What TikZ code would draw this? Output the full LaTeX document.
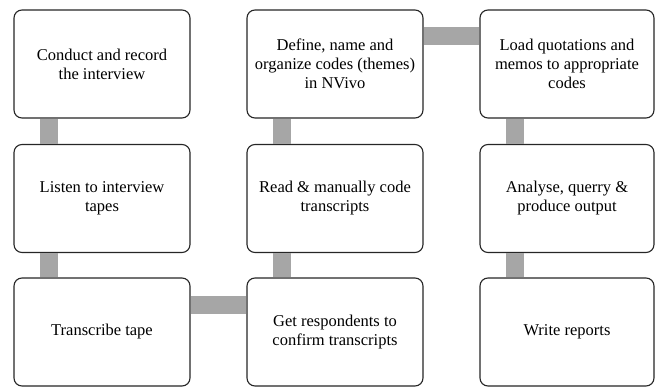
\documentclass[tikz,border=0pt]{standalone}
\usepackage{fontspec}
\newfontfamily\boxfont{LiberationSerif-Regular.ttf}
\usetikzlibrary{calc}
\tikzset{
  stepbox/.style={draw=black!85, line width=1.1pt, rounded corners=8pt, fill=white,
    minimum width=176pt, minimum height=108pt, inner sep=0pt, align=center,
    font=\boxfont\fontsize{16.5}{19}\selectfont},
  bar/.style={fill=black!35, draw=none}
}
\begin{document}
\begin{tikzpicture}[x=1pt,y=-1pt]
\useasboundingbox (0,0) rectangle (657,388);
% three columns of process steps
\node[stepbox] (c1) at (102,64) {Conduct and record\\the interview};
\node[stepbox] (l1) at (102,198.5) {Listen to interview\\tapes};
\node[stepbox] (t1) at (102,332) {Transcribe tape};
\node[stepbox] (d2) at (335,64) {Define, name and\\organize codes (themes)\\in NVivo};
\node[stepbox] (r2) at (335,198.5) {Read \& manually code\\transcripts};
\node[stepbox] (g2) at (335,332) {Get respondents to\\confirm transcripts};
\node[stepbox, minimum width=174pt] (q3) at (567,64) {Load quotations and\\memos to appropriate\\codes};
\node[stepbox, minimum width=174pt] (a3) at (567,198.5) {Analyse, querry \&\\produce output};
\node[stepbox, minimum width=174pt] (w3) at (567,332) {Write reports};
% vertical links, set off from the left edge
\foreach \u/\v in {c1/l1, l1/t1, d2/r2, r2/g2, q3/a3, a3/w3}{
  \fill[bar] ($(\u.south west)+(27,0)$) rectangle ($(\v.north west)+(45,0)$);
}
% horizontal links, set off from the top edge
\fill[bar] ($(d2.north east)+(0,18)$) rectangle ($(q3.north west)+(0,36)$);
\fill[bar] ($(t1.north east)+(0,19)$) rectangle ($(g2.north west)+(0,37)$);
\end{tikzpicture}
\end{document}
